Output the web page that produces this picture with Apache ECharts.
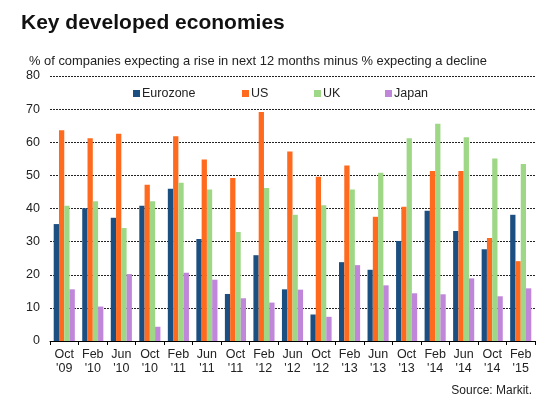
<!DOCTYPE html>
<html>
<head>
<meta charset="utf-8">
<script src="https://cdn.jsdelivr.net/npm/echarts@6/dist/echarts.min.js"></script>
<style>
html,body{margin:0;padding:0;background:#fff;}
#chart{width:560px;height:414px;}
</style>
</head>
<body>
<div id="chart"></div>
<script>
var categories = ["Oct\n'09","Feb\n'10","Jun\n'10","Oct\n'10","Feb\n'11","Jun\n'11","Oct\n'11","Feb\n'12","Jun\n'12","Oct\n'12","Feb\n'13","Jun\n'13","Oct\n'13","Feb\n'14","Jun\n'14","Oct\n'14","Feb\n'15"];
var eurozone = [35.3,40.1,37.2,40.8,46.0,30.8,14.2,25.9,15.6,8.0,23.8,21.5,30.2,39.3,33.2,27.7,38.1];
var us       = [63.6,61.2,62.6,47.2,61.8,54.8,49.2,69.1,57.2,49.6,53.0,37.5,40.5,51.3,51.3,31.1,24.1];
var uk       = [40.8,42.2,34.1,42.2,47.8,45.7,32.9,46.2,38.1,41.0,45.7,50.8,61.2,65.6,61.5,55.1,53.4];
var japan    = [15.6,10.4,20.2,4.3,20.6,18.5,12.9,11.6,15.5,7.3,22.9,16.8,14.4,14.1,18.9,13.5,15.9];
var seriesNames = ["Eurozone","US","UK","Japan"];
var colors = ["#1B4F82","#FF6A1F","#9ED886","#BF86D9"];
var yTicks = {min:0,max:80,interval:10};

var font = "Liberation Sans, Arial, sans-serif";
var chart = echarts.init(document.getElementById('chart'));
var legendLefts = [133,242,314,385];
var legends = seriesNames.map(function(n,i){
  return {
    data:[n], left:legendLefts[i], top:87, padding:0, itemWidth:7, itemHeight:7, itemGap:0,
    icon:'rect', textStyle:{fontFamily:font,fontSize:12.5,color:'#222',padding:[0,0,0,-3]},
    selectedMode:false
  };
});
var dataArr = [eurozone,us,uk,japan];
chart.setOption({
  animation:false,
  color:colors,
  textStyle:{fontFamily:font},
  title:[
    {text:'Key developed economies',left:16,top:8,textStyle:{fontFamily:font,fontSize:21,fontWeight:'bold',color:'#111'}},
    {text:'% of companies expecting a rise in next 12 months minus % expecting a decline',left:24,top:50,textStyle:{fontFamily:font,fontSize:12.9,fontWeight:'normal',color:'#222'}},
    {text:'Source: Markit.',right:23,top:380,textStyle:{fontFamily:font,fontSize:12,fontWeight:'normal',color:'#222'}}
  ],
  legend:legends,
  grid:{left:50,right:25,top:76,bottom:73,containLabel:false},
  xAxis:{
    type:'category',data:categories,
    axisLine:{lineStyle:{color:'#000',width:1}},
    axisTick:{show:true,length:4,lineStyle:{color:'#000'}},
    axisLabel:{fontFamily:font,fontSize:12.5,color:'#222',lineHeight:14,margin:7,interval:0}
  },
  yAxis:{
    type:'value',min:yTicks.min,max:yTicks.max,interval:yTicks.interval,
    axisLine:{show:false},axisTick:{show:false},
    axisLabel:{fontFamily:font,fontSize:12.5,color:'#222',margin:10},
    splitLine:{lineStyle:{color:'#222',type:[2,1],width:1}}
  },
  series:seriesNames.map(function(n,i){
    return {name:n,type:'bar',data:dataArr[i],barGap:'0%',barCategoryGap:'26%',itemStyle:{color:colors[i]}};
  })
});
</script>
</body>
</html>
